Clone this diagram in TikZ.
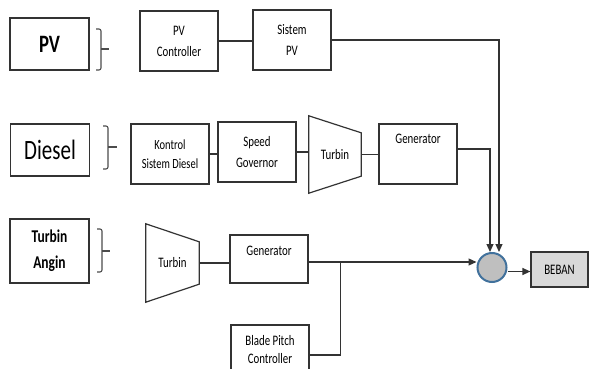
\documentclass[tikz,border=0pt]{standalone}
\usepackage{fontspec}
\setmainfont[FakeStretch=0.75]{Carlito}
\usetikzlibrary{arrows.meta,calc}
\tikzset{
  blok/.style={draw=black!80, line width=1.2pt, minimum width=78pt, minimum height=60pt,
    inner sep=1pt, align=center, font=\fontsize{14.5}{21}\selectfont},
  sumber/.style={blok, minimum width=79pt, minimum height=52pt,
    font=\fontsize{25}{28}\selectfont\bfseries},
  turbin/.style={minimum width=52pt, minimum height=77pt, inner sep=0pt,
    font=\fontsize{14.5}{16}\selectfont},
  judul/.style={anchor=north, inner sep=0pt, font=\fontsize{14.5}{16}\selectfont},
  garis/.style={draw=black!80, line width=1.2pt},
  panah/.style={garis, -{Triangle[length=8pt,width=7pt]}},
  kurung/.style={draw=black!70, line width=1.1pt, rounded corners=2pt},
}
\begin{document}
\begin{tikzpicture}[x=1pt,y=-1pt]
  \useasboundingbox (0,0) rectangle (590,369);
  \clip (0,0) rectangle (590,369);
  % sumber energi
  \node[sumber] (pv) at (49.5,44) {PV};
  \node[sumber, font=\fontsize{28}{30}\selectfont] (diesel) at (50,150) {Diesel};
  \node[sumber, minimum height=64pt, font=\fontsize{18}{26}\selectfont\bfseries] (angin) at (49.5,251) {Turbin\\Angin};
  \draw[kurung] (96,29) -| (101,70) -- (96,70);
  \draw[kurung] (101,49) -- (109,49);
  \draw[kurung] (103,126) -| (108,169) -- (103,169);
  \draw[kurung] (108,147) -- (117,147);
  \draw[kurung] (97,229) -| (102,272) -- (97,272);
  \draw[kurung] (102,251) -- (110,251);
  % baris PV
  \node[blok] (pvc) at (179,41) {PV\\Controller};
  \node[blok] (sispv) at (292,40) {Sistem\\PV};
  % baris diesel
  \node[blok, font=\fontsize{14}{19}\selectfont] (ksd) at (170,154) {Kontrol\\Sistem Diesel};
  \node[blok] (sg) at (257,152) {Speed\\Governor};
  \node[turbin] (tb1) at (335,154.5) {Turbin};
  \draw[garis] (tb1.north west) -- ([yshift=-17pt]tb1.north east)
    -- ([yshift=17pt]tb1.south east) -- (tb1.south west) -- cycle;
  \node[blok, label={[judul, name=gen1txt, yshift=-10pt]north:Generator}] (gen1) at (418,154) {};
  % baris angin
  \node[turbin, minimum width=53pt, minimum height=78pt] (tb2) at (172.5,263) {Turbin};
  \draw[garis] (tb2.north west) -- ([yshift=-18pt]tb2.north east)
    -- ([yshift=18pt]tb2.south east) -- (tb2.south west) -- cycle;
  \node[blok, minimum height=48pt, label={[judul, name=gen2txt, yshift=-11pt]north:Generator}] (gen2) at (269,259) {};
  \node[blok, minimum height=50pt, font=\fontsize{14.5}{18}\selectfont] (bpc) at (270,350) {Blade Pitch\\Controller};
  % beban
  \node[circle, draw={rgb,255:red,65;green,113;blue,156}, fill=black!25, line width=2pt,
    minimum size=29pt, inner sep=0pt] (sum) at (492,267.5) {};
  \node[blok, minimum width=57pt, minimum height=35pt, fill=black!15] (beban) at (559.5,269.5) {BEBAN};
  \coordinate (cabang) at ($([yshift=-3pt]gen2.east)+(32,0)$);
  % sambungan
  \draw[garis] (pvc.east) -- (pvc.east -| sispv.west);
  \draw[panah] (sispv.east) -| ($(sum.north)+(7,0)$);
  \draw[garis] (ksd.east) -- (ksd.east -| sg.west);
  \draw[garis] (sg.east) -- (sg.east -| tb1.west);
  \draw[garis] (tb1.east) -- (tb1.east -| gen1.west);
  \draw[panah] ([yshift=5pt]gen1.east) -| ($(sum.north)+(-2,0)$);
  \draw[garis] (tb2.east) -- (tb2.east -| gen2.west);
  \draw[panah] ([yshift=-3pt]gen2.east) -- ([yshift=-3pt]gen2.east -| sum.west);
  \draw[garis] ([yshift=-5pt]bpc.east) -| (cabang);
  \draw[panah] ([yshift=-4pt]sum.east) -- ([yshift=-4pt]sum.east -| beban.west);
\end{tikzpicture}
\end{document}
